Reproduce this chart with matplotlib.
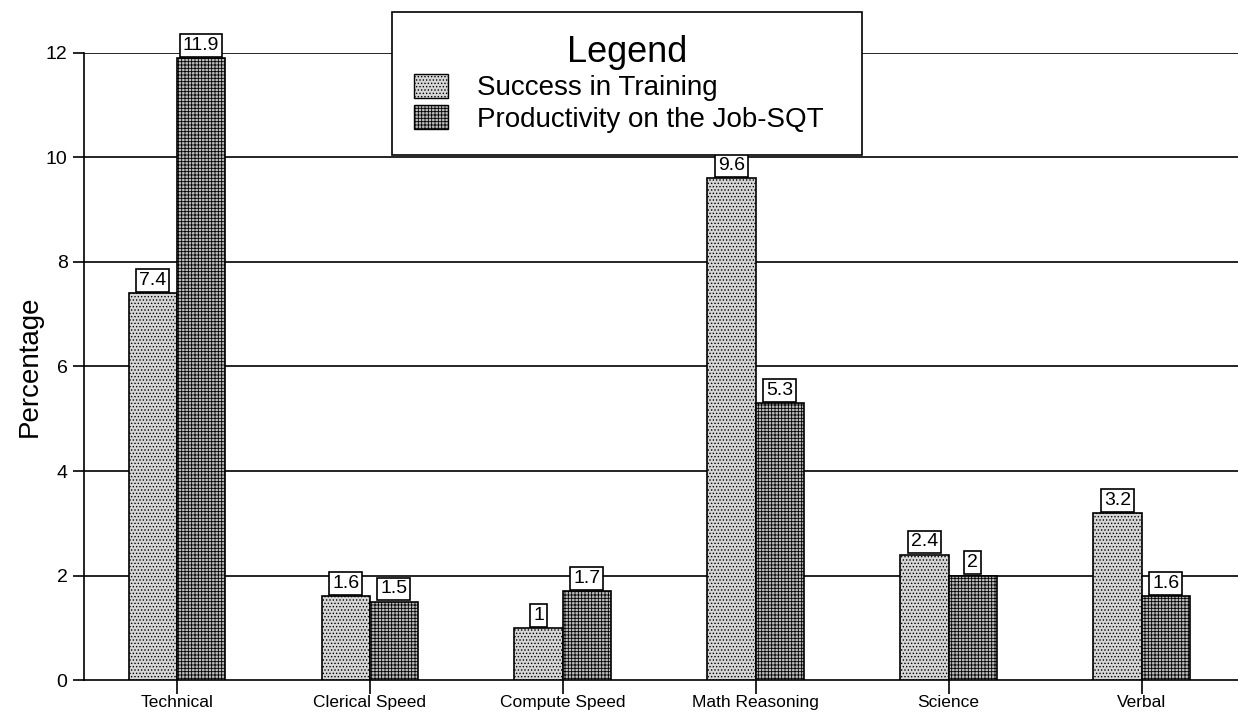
import numpy as np
import matplotlib.pyplot as plt
from matplotlib.patches import Patch

plt.rcParams["font.family"] = ["Liberation Sans", "DejaVu Sans"]
plt.rcParams["hatch.linewidth"] = 0.6

categories = ["Technical", "Clerical Speed", "Compute Speed", "Math Reasoning", "Science", "Verbal"]
success_training = [7.4, 1.6, 1.0, 9.6, 2.4, 3.2]
productivity_sqt = [11.9, 1.5, 1.7, 5.3, 2.0, 1.6]
series_names = ["Success in Training", "Productivity on the Job-SQT"]

fig = plt.figure(figsize=(12.38, 7.25), dpi=100)
ax = fig.add_axes([0.068, 0.062, 0.932, 0.865])

x = np.arange(len(categories))
w = 0.25
styles = [dict(facecolor="#d6d6d6", hatch="....."), dict(facecolor="#bcbcbc", hatch="+++++")]

for off, vals, st in [(-w / 2, success_training, styles[0]), (w / 2, productivity_sqt, styles[1])]:
    bars = ax.bar(x + off, vals, width=w, edgecolor="black", linewidth=1.2, zorder=3, **st)
    for b, v in zip(bars, vals):
        lab = f"{v:g}"
        ax.annotate(lab, (b.get_x() + b.get_width() / 2, v), xytext=(0, 3),
                    textcoords="offset points", ha="center", va="bottom", fontsize=14,
                    zorder=4,
                    bbox=dict(boxstyle="square,pad=0.15", facecolor="white", edgecolor="black", lw=1.2))

ax.set_xlim(-0.48, 5.5)
ax.set_ylim(0, 12)
ax.set_yticks(range(0, 13, 2))
for y in range(2, 13, 2):
    ax.axhline(y, color="black", lw=1.2, zorder=1)
ax.set_xticks(x)
ax.set_xticklabels(categories, fontsize=12.5)
ax.tick_params(axis="x", length=10, width=1.2, pad=1)
ax.tick_params(axis="y", length=8, width=1.2, labelsize=14, pad=4)
ax.set_ylabel("Percentage", fontsize=20, labelpad=2)
for s in ["top", "right"]:
    ax.spines[s].set_visible(False)
ax.spines["left"].set_linewidth(1.2)
ax.spines["bottom"].set_linewidth(1.2)

handles = [Patch(edgecolor="black", linewidth=1.0, label=n, **st) for n, st in zip(series_names, styles)]
leg = fig.legend(handles=handles, title="Legend", loc="upper left",
                 bbox_to_anchor=(0.3166, 0.5, 0.3797, 0.483), mode="expand", borderaxespad=0,
                 fontsize=20, title_fontsize=26, frameon=True, fancybox=False, framealpha=1,
                 edgecolor="black", handlelength=1.2, handleheight=0.95, handletextpad=1.05,
                 borderpad=0.8, labelspacing=0.15, alignment="center")
leg.get_frame().set_linewidth(1.2)
leg.set_zorder(10)

fig.savefig("out.png", dpi=100)
